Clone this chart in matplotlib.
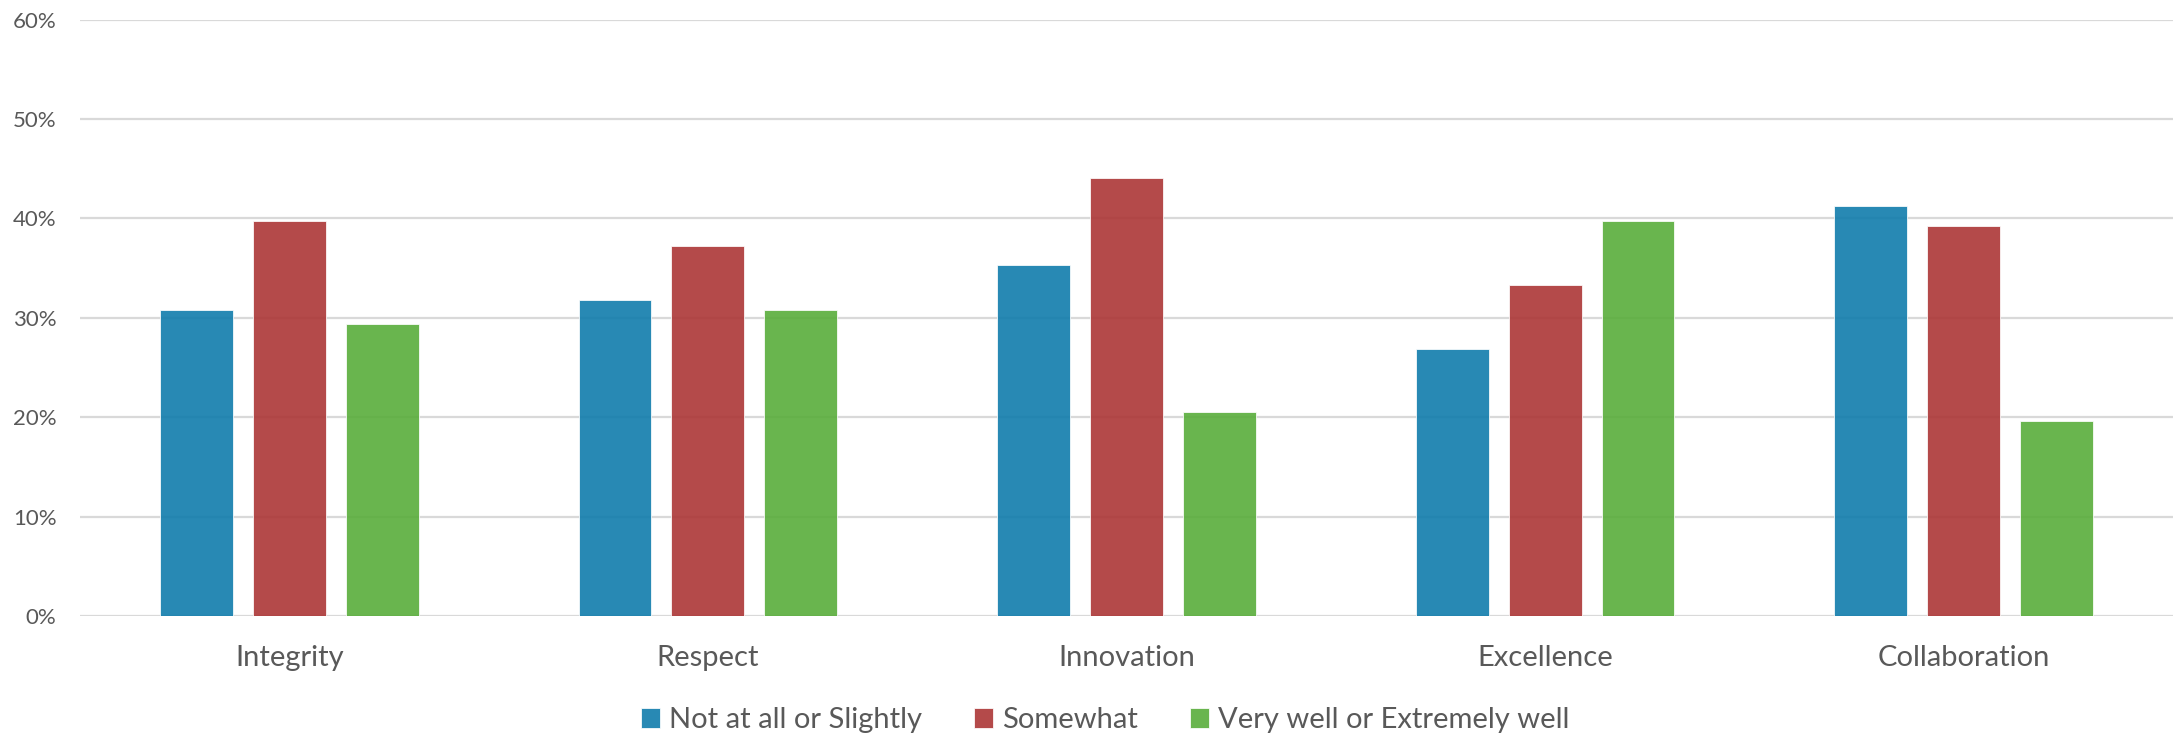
import matplotlib
matplotlib.use("Agg")
import matplotlib.pyplot as plt
import numpy as np
from matplotlib.ticker import PercentFormatter

plt.rcParams['font.family'] = ['Lato', 'DejaVu Sans']

categories = ["Integrity", "Respect", "Innovation", "Excellence", "Collaboration"]
series = ["Not at all or Slightly", "Somewhat", "Very well or Extremely well"]
not_at_all = [30.8, 31.8, 35.3, 26.9, 41.2]
somewhat = [39.7, 37.2, 44.1, 33.3, 39.2]
very_well = [29.4, 30.8, 20.5, 39.7, 19.6]
colors = ["#107CAC", "#AC3636", "#59AD3B"]

text_col = "#595959"

fig = plt.figure(figsize=(21.8, 7.37), dpi=100)
ax = fig.add_axes([0.0367, 0.1642, 0.9601, 0.8093])

x = np.arange(len(categories))
width = 0.174
step = 0.222
for i, (vals, name) in enumerate(zip([not_at_all, somewhat, very_well], series)):
    ax.bar(x + (i - 1) * step, np.array(vals) / 100, width, color=colors[i],
           alpha=0.9, edgecolor="white", linewidth=0.6, label=name, zorder=2)

ax.set_xlim(-0.5, len(categories) - 0.5)
ax.set_ylim(0, 0.6)
ax.set_yticks(np.arange(0, 0.61, 0.1))
ax.yaxis.set_major_formatter(PercentFormatter(1.0, decimals=0))
ax.grid(axis="y", color="#d9d9d9", linewidth=1.6, zorder=0)
ax.set_axisbelow(True)
for s in ax.spines.values():
    s.set_visible(False)
ax.tick_params(axis="y", length=0, pad=17, labelsize=16, labelcolor=text_col)
ax.tick_params(axis="x", length=0, pad=21, labelsize=21, labelcolor=text_col)
ax.set_xticks(x)
ax.set_xticklabels(categories)

fig.legend(loc="center", bbox_to_anchor=(0.507, 0.023), ncol=3, frameon=False,
           fontsize=21, labelcolor=text_col, handlelength=0.65, handleheight=0.65,
           handletextpad=0.3, columnspacing=1.8)

fig.savefig("out.png", dpi=100)
